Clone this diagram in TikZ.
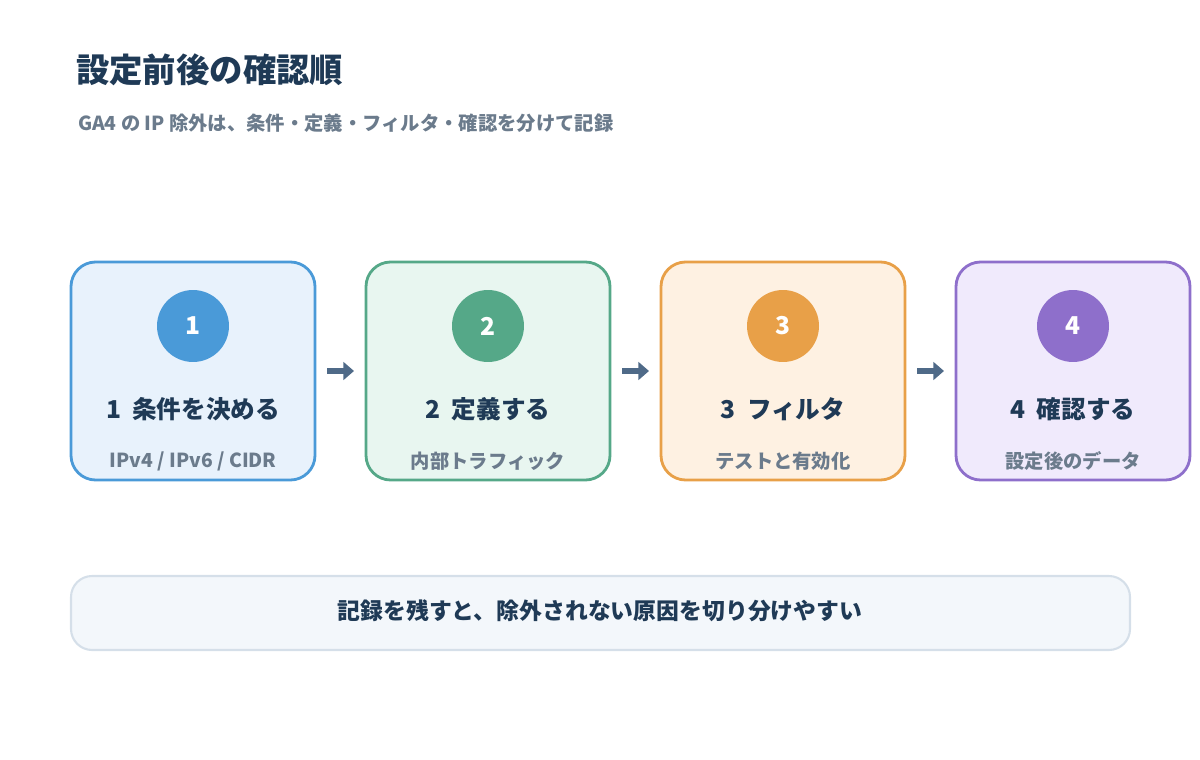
\documentclass[tikz,border=0pt]{standalone}
\usepackage{fontspec}
\setmainfont{Noto Sans CJK JP}
\usepackage{tikz}
\usetikzlibrary{arrows.meta, positioning}
\definecolor{inkDark}{HTML}{1F3A56}
\definecolor{inkGray}{HTML}{6B7B8C}
\definecolor{arrowBlue}{HTML}{4F6A88}
\definecolor{stepBlue}{HTML}{4A9AD8}
\definecolor{fillBlue}{HTML}{E8F2FC}
\definecolor{stepGreen}{HTML}{55A888}
\definecolor{fillGreen}{HTML}{E8F6F0}
\definecolor{stepOrange}{HTML}{E8A048}
\definecolor{fillOrange}{HTML}{FEF1E2}
\definecolor{stepPurple}{HTML}{8E6FCB}
\definecolor{fillPurple}{HTML}{F0EAFC}
\definecolor{noteFill}{HTML}{F3F7FB}
\definecolor{noteLine}{HTML}{D5DFE9}
\begin{document}
\begin{tikzpicture}[x=0.02cm, y=-0.02cm,
    badge/.style={circle, minimum size=1.44cm, inner sep=0pt, text=white, font=\bfseries\fontsize{14}{16}\selectfont},
    steptitle/.style={text=inkDark, font=\bfseries\fontsize{14}{16}\selectfont},
    stepnote/.style={text=inkGray, font=\bfseries\fontsize{11}{13}\selectfont},
    flow/.style={arrowBlue, line width=3pt, -{Triangle[length=6pt, width=10pt]}}]
  \path[use as bounding box] (0,0) rectangle (1200,760);
  \node[anchor=west, text=inkDark, font=\bfseries\fontsize{19}{22}\selectfont] (title) at (70,70) {設定前後の確認順};
  \node[anchor=west, text=inkGray, font=\bfseries\fontsize{11}{13}\selectfont] (subtitle) at (72,123) {GA4 の IP 除外は、条件・定義・フィルタ・確認を分けて記録};
  % steps
  \foreach \i/\x/\w/\col/\fil/\ttl/\sub in {
      1/71/244/stepBlue/fillBlue/{1\ \ 条件を決める}/{IPv4 / IPv6 / CIDR},
      2/366/244/stepGreen/fillGreen/{2\ \ 定義する}/{内部トラフィック},
      3/661/244/stepOrange/fillOrange/{3\ \ フィルタ}/{テストと有効化},
      4/956/234/stepPurple/fillPurple/{4\ \ 確認する}/{設定後のデータ}} {
    \draw[\col, fill=\fil, line width=1.6pt, rounded corners=14pt] (\x,262) rectangle ++(\w,218);
    \node[badge, fill=\col] (badge\i) at ({\x+\w/2},326) {\i};
    \node[steptitle] (title\i) at ({\x+\w/2},409) {\ttl};
    \node[stepnote] (note\i) at ({\x+\w/2},461) {\sub};
  }
  \coordinate (a1s) at (327,371); \coordinate (a1e) at (354,371);
  \coordinate (a2s) at (622,371); \coordinate (a2e) at (649,371);
  \coordinate (a3s) at (917,371); \coordinate (a3e) at (944,371);
  \foreach \k in {1,2,3} \draw[flow] (a\k s) -- (a\k e);
  % note
  \draw[noteLine, fill=noteFill, line width=1.2pt, rounded corners=12pt] (71,576) rectangle (1130,650);
  \node[text=inkDark, font=\bfseries\fontsize{13}{15}\selectfont] (note) at (600,611) {記録を残すと、除外されない原因を切り分けやすい};
\end{tikzpicture}
\end{document}
